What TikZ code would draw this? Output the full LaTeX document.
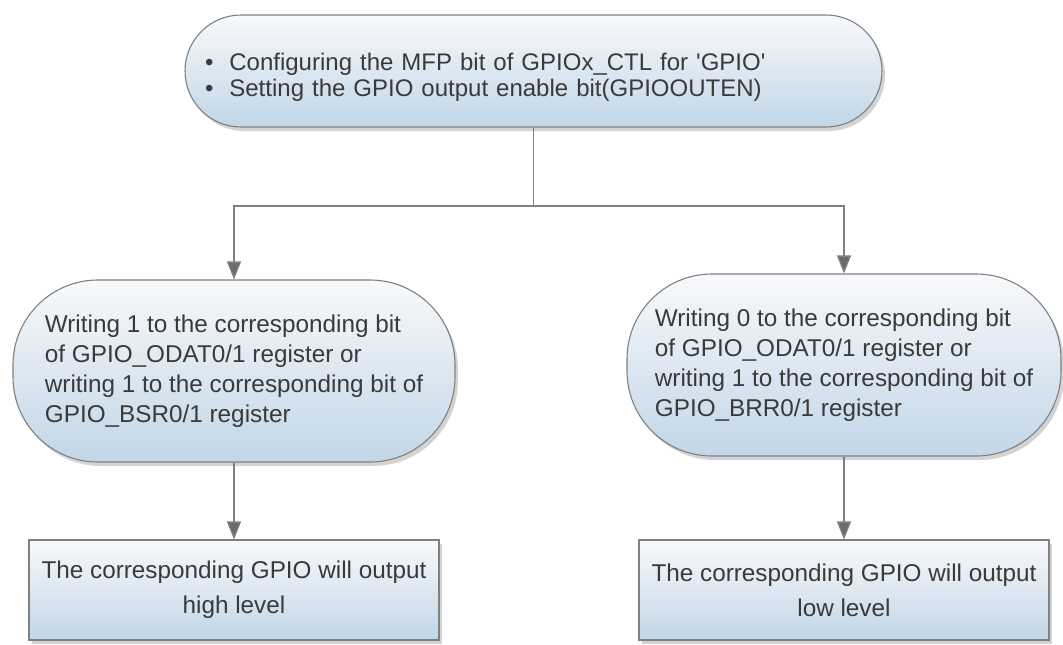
\documentclass[tikz,border=0pt]{standalone}
\usepackage{fontspec}
\setmainfont{Liberation Sans}
\usepackage{xcolor}
\definecolor{ColLine}{RGB}{128,128,128}
\definecolor{ColTip}{RGB}{108,108,108}
\definecolor{ColText}{RGB}{58,58,58}
\definecolor{ColTop}{RGB}{248,249,251}
\definecolor{ColBottom}{RGB}{193,214,231}
\usepackage{tikz}
\usetikzlibrary{shadows}
\usetikzlibrary{arrows.meta}
\tikzstyle{Block}=[draw=ColLine,line width=1.1pt,top color=ColTop,
    bottom color=ColBottom,text=ColText,
    font=\fontsize{24.3}{30}\selectfont,
    drop shadow={shadow xshift=3pt,shadow yshift=-4pt,opacity=.35}]
\tikzstyle{Oval}=[Block,rounded corners=85pt,minimum width=442pt,
    minimum height=182pt,align=left]
\tikzstyle{Box}=[Block,minimum width=410pt,minimum height=100pt,
    align=center,font=\fontsize{24.3}{35}\selectfont]
\tikzstyle{Link}=[ColLine,draw,line width=1.3pt]
\tikzstyle{Map}=[Link,-{Triangle[length=18pt,width=14pt,fill=ColTip]}]

\begin{document}
\begin{tikzpicture}[x=1pt,y=-1pt]
        \useasboundingbox(0,0)rectangle(1063,645);
        \node(Cfg)at(533.5,71)[Oval,rounded corners=56pt,minimum width=697pt,
            minimum height=112pt,text width=657pt,inner xsep=20pt,
            font=\fontsize{24}{26.5}\selectfont]
            {\rule{0pt}{30pt}\textbullet\hspace{16pt}Configuring the MFP bit of
            GPIOx\_CTL for \textquotesingle GPIO\textquotesingle\\
            \textbullet\hspace{16pt}Setting the GPIO output enable bit(GPIOOUTEN)};
        \node(High)at(234,371)[Oval]{Writing 1 to the corresponding bit\\
            of GPIO\_ODAT0/1 register or\\
            writing 1 to the corresponding bit of\\
            GPIO\_BSR0/1 register};
        \node(Low)at(844,365)[Oval,minimum width=434pt]
            {Writing 0 to the corresponding bit\\
            of GPIO\_ODAT0/1 register or\\
            writing 1 to the corresponding bit of\\
            GPIO\_BRR0/1 register};
        \node(HighOut)at(234,590)[Box]
            {The corresponding GPIO will output\\high level};
        \node(LowOut)at(844,590)[Box]
            {The corresponding GPIO will output\\low level};
        \coordinate(Fork)at(533.5,206);
        \draw[Link](Cfg.south)--(Fork);
        \draw[Map](Fork)-|(High.north);
        \draw[Map](Fork)-|(Low.north);
        \draw[Map](High.south)--(HighOut.north);
        \draw[Map](Low.south)--(LowOut.north);
    \end{tikzpicture}
\end{document}
